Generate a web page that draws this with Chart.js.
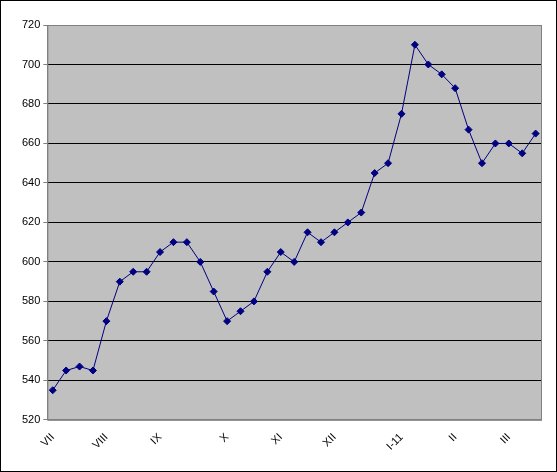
<!DOCTYPE html>
<html><head><meta charset="utf-8">
<script src="https://cdn.jsdelivr.net/npm/chart.js@4/dist/chart.umd.min.js"></script>
<style>
body{margin:0;background:#fff}
#wrap{position:absolute;left:0;top:0;width:555px;height:470px;border:1px solid #000}
</style></head>
<body><div id="wrap"><canvas id="c"></canvas></div>
<script>
// weekly values, Jul .. Mar
var values = [535,545,547,545,570,590,595,595,605,610,610,600,585,570,575,580,595,605,600,615,610,615,620,625,645,650,675,710,700,695,688,667,650,660,660,655,665];
var monthLabels = ["VII","VIII","IX","X","XI","XII","I-11","II","III"];
var monthIndex = [0,4,8,13,17,21,26,30,34];
var yTicks = [520,540,560,580,600,620,640,660,680,700,720];

var points = values.map(function(v,i){ return {x:i, y:v}; });

var plotBg = {
  id:'plotBg',
  beforeDraw:function(chart){
    var a = chart.chartArea, ctx = chart.ctx;
    ctx.save();
    ctx.fillStyle = '#c0c0c0';
    ctx.fillRect(a.left,a.top,a.right-a.left,a.bottom-a.top);
    ctx.restore();
  },
  afterDatasetsDraw:function(chart){
    var a = chart.chartArea, ctx = chart.ctx;
    ctx.save();
    ctx.strokeStyle = '#808080';
    ctx.lineWidth = 1;
    ctx.strokeRect(a.left+0.5,a.top+0.5,a.right-a.left,a.bottom-a.top);
    ctx.restore();
  }
};

new Chart(document.getElementById('c').getContext('2d'), {
  type:'line',
  data:{datasets:[{
    data:points,
    borderColor:'#000080',
    backgroundColor:'#000080',
    borderWidth:1,
    pointStyle:'rectRot',
    pointRadius:3.5,
    tension:0
  }]},
  options:{
    responsive:true,
    maintainAspectRatio:false,
    animation:false,
    layout:{padding:{top:24,right:15,left:18,bottom:15}},
    plugins:{legend:{display:false},tooltip:{enabled:false}},
    scales:{
      x:{
        type:'linear',
        min:-0.4, max:36.4,
        afterBuildTicks:function(s){ s.ticks = monthIndex.map(function(v){return {value:v};}); },
        ticks:{
          autoSkip:false, maxRotation:45, minRotation:45,
          color:'#000', font:{family:'Liberation Sans, Arial', size:11},
          callback:function(v){ var k = monthIndex.indexOf(v); return k<0 ? '' : monthLabels[k]; }
        },
        grid:{display:false, drawTicks:true},
        border:{color:'#808080'}
      },
      y:{
        min:520, max:720,
        afterBuildTicks:function(s){ s.ticks = yTicks.map(function(v){return {value:v};}); },
        ticks:{color:'#000', font:{family:'Liberation Sans, Arial', size:11}},
        grid:{color:'#000', lineWidth:1, drawTicks:true, tickLength:4, tickColor:'#808080'},
        border:{color:'#808080'}
      }
    }
  },
  plugins:[plotBg]
});
</script></body></html>
